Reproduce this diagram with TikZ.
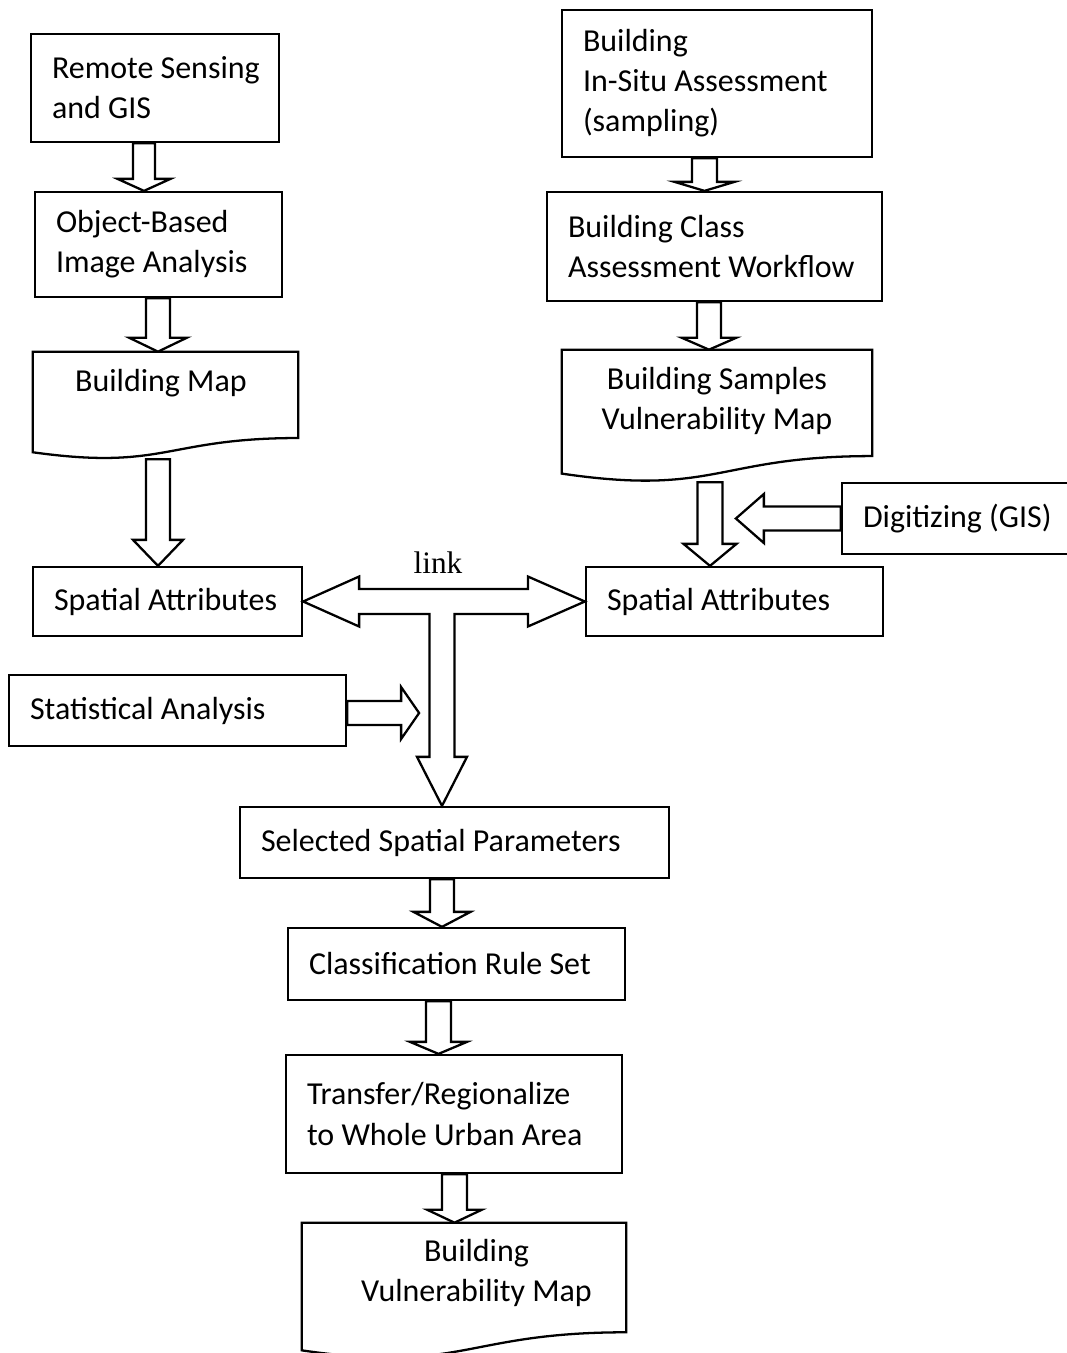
\documentclass[tikz,border=0pt]{standalone}
\usepackage{fontspec}
\setmainfont{Carlito}
\newfontfamily\linkfont{Liberation Serif}
\usetikzlibrary{calc}

% hollow block arrows (sizes in px of the picture grid)
\newcommand{\downblock}[6]{%
  \coordinate (at) at ($(#2)+(#3,0)$);
  \draw[blockarrow] ($(#1 -| at)+(-#4,0)$) -- ($(at)+(-#4,-#6)$) -- ($(at)+(-#5,-#6)$) -- (at) -- ($(at)+(#5,-#6)$) -- ($(at)+(#4,-#6)$) -- ($(#1 -| at)+(#4,0)$) -- cycle;}
\newcommand{\sideblock}[5]{%
  \draw[blockarrow] ($(#1 |- #2)+(0,-#3)$) -- ($(#2)+(#5,-#3)$) -- ($(#2)+(#5,-#4)$) -- (#2) -- ($(#2)+(#5,#4)$) -- ($(#2)+(#5,#3)$) -- ($(#1 |- #2)+(0,#3)$) -- cycle;}
% document shape with wavy bottom
\newcommand{\docoutline}[1]{%
  \draw[boxline] (#1.north west) -- (#1.north east) -- ($(#1.north east)!0.802!(#1.south east)$) .. controls ($(#1.north)!0.802!(#1.south)$) and ($(#1.north)!1.107!(#1.south)$) .. ($(#1.north west)!0.934!(#1.south west)$) -- cycle;}

\begin{document}
\begin{tikzpicture}[x=0.02cm,y=-0.02cm,font=\fontsize{18.2}{22.8}\selectfont]

\tikzset{boxline/.style={line width=1.3pt,line join=miter},
box/.style={draw,boxline,inner xsep=0.42cm,inner ysep=0pt,align=flush left},
docbox/.style={inner sep=0pt},
doctext/.style={align=center,inner sep=0pt},
blockarrow/.style={draw,fill=white,boxline},
linklabel/.style={font=\linkfont\fontsize{17.8}{20}\selectfont,inner sep=0pt}}

\useasboundingbox (0,0) rectangle (1067,1353);

% Left column
\node[box,text width=4.12cm,minimum height=2.16cm] (rs) at (155,88) {\mbox{Remote Sensing}\\and GIS};
\node[box,text width=4.10cm,minimum height=2.10cm] (obia) at (158.5,244.5) {Object-Based\\Image Analysis};
\node[docbox,minimum width=5.30cm,minimum height=2.14cm] (bmap) at (165.5,405.5) {};
\node[doctext] (bmap text) at ($(bmap.north)+(-4.5,31)$) {Building Map};
\docoutline{bmap}
\node[box,text width=4.54cm,minimum height=1.38cm] (sa1) at (167.5,601.5) {Spatial Attributes};
\node[box,text width=5.90cm,minimum height=1.42cm] (stat) at (177.5,710.5) {Statistical Analysis};

% Right column
\node[box,text width=5.36cm,minimum height=2.94cm] (insitu) at (717,83.5) {Building\\In-Situ Assessment\\(sampling)};
\node[box,text width=5.86cm,minimum height=2.18cm] (bcaw) at (714.5,246.5) {Building Class\\Assessment Workflow};
\node[docbox,minimum width=6.20cm,minimum height=2.64cm] (bsvm) at (717,416) {};
\node[doctext] (bsvm text) at ($(bsvm.north)+(0,51.5)$) {Building Samples\\Vulnerability Map};
\docoutline{bsvm}
\node[box,text width=5.10cm,minimum height=1.38cm] (sa2) at (734.5,601.5) {Spatial Attributes};
\node[box,text width=3.82cm,minimum height=1.42cm] (dig) at (958.5,518.5) {Digitizing (GIS)};

% Lower chain
\node[box,text width=7.74cm,minimum height=1.42cm] (sel) at (454.5,842.5) {Selected Spatial Parameters};
\node[box,text width=5.90cm,minimum height=1.44cm] (cls) at (456.5,964) {Classification Rule Set};
\node[box,text width=5.88cm,minimum height=2.36cm] (trans) at (454,1114) {Transfer/Regionalize\\to Whole Urban Area};
\node[docbox,minimum width=6.48cm,minimum height=2.72cm] (bvm) at (464,1291) {};
\node[doctext] (bvm text) at ($(bvm.north)+(12.5,50)$) {Building\\Vulnerability Map};
\docoutline{bvm}

% Down arrows
\downblock{rs.south}{obia.north}{-14.5}{11}{26.5}{12}
\downblock{obia.south}{bmap.north}{-7.5}{12}{29}{14}
\downblock{bmap.south}{sa1.north}{-9.5}{12}{25}{26}
\downblock{insitu.south}{bcaw.north}{-10}{12.5}{30}{9}
\downblock{bcaw.south}{bsvm.north}{-8}{12}{27.5}{12}
\downblock{bsvm.south}{sa2.north}{-24.5}{12.5}{26.5}{22}
\downblock{sel.south}{cls.north}{-14.5}{12}{28.5}{15}
\downblock{cls.south}{trans.north}{-15.5}{12.5}{28.5}{12}
\downblock{trans.south}{bvm.north}{-9.5}{12.5}{27.5}{13}

% Side arrows
\coordinate (dig tip) at ($(dig.west)+(-105,0)$);
\sideblock{dig.west}{dig tip}{12}{24.5}{28}
\coordinate (stat tip) at ($(stat.east)+(72,2.5)$);
\sideblock{stat.east}{stat tip}{12}{26}{-18}

% Link arrow
\coordinate (link tip) at ($(sel.north)+(-12.5,0)$);
\draw[blockarrow] (sa1.east) -- ($(sa1.east)+(56,-25)$) -- ($(sa1.east)+(56,-12.5)$) -- ($(sa2.west)+(-57,-12.5)$) -- ($(sa2.west)+(-57,-25)$) -- (sa2.west) -- ($(sa2.west)+(-57,25)$) -- ($(sa2.west)+(-57,12.5)$) -- ($(link tip |- sa1.east)+(12.5,12.5)$) -- ($(link tip)+(12.5,-49)$) -- ($(link tip)+(25,-49)$) -- (link tip) -- ($(link tip)+(-25,-49)$) -- ($(link tip)+(-12.5,-49)$) -- ($(link tip |- sa1.east)+(-12.5,12.5)$) -- ($(sa1.east)+(56,12.5)$) -- ($(sa1.east)+(56,25)$) -- cycle;
\node[linklabel] (link) at ($(sa1.east)!0.5!(sa2.west)+(-6,-39)$) {link};

\end{tikzpicture}
\end{document}
